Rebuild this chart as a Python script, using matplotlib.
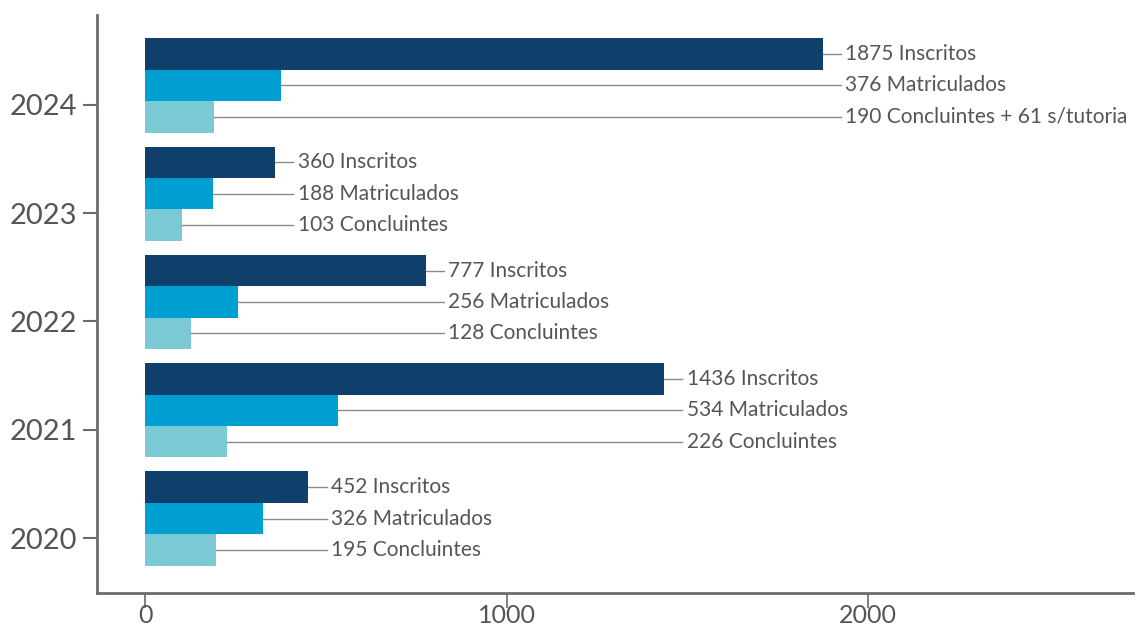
import matplotlib.pyplot as plt
import numpy as np

plt.rcParams['font.family'] = ['Lato', 'DejaVu Sans']

years = ['2020', '2021', '2022', '2023', '2024']
inscritos = [452, 1436, 777, 360, 1875]
matriculados = [326, 534, 256, 188, 376]
concluintes = [195, 226, 128, 103, 190]
lbl_inscritos = ['452 Inscritos', '1436 Inscritos', '777 Inscritos', '360 Inscritos', '1875 Inscritos']
lbl_matriculados = ['326 Matriculados', '534 Matriculados', '256 Matriculados', '188 Matriculados', '376 Matriculados']
lbl_concluintes = ['195 Concluintes', '226 Concluintes', '128 Concluintes', '103 Concluintes',
                   '190 Concluintes + 61 s/tutoria']

colors = ['#0f3f6b', '#009fd1', '#7bc9d4']
txt = '#555555'
axc = '#6b6b6b'

fig = plt.figure(figsize=(11.37, 6.29), dpi=100)
ax = fig.add_axes([0.0853, 0.0572, 0.9112, 0.9188])

y = np.arange(len(years))
h = 0.29
centre = y + 0.18
series = [(inscritos, lbl_inscritos, centre + h),
          (matriculados, lbl_matriculados, centre),
          (concluintes, lbl_concluintes, centre - h)]

for (vals, lbls, pos), c in zip(series, colors):
    ax.barh(pos, vals, height=h, color=c, linewidth=0)

for i in range(len(years)):
    tx = max(inscritos[i], matriculados[i], concluintes[i]) + 62
    for vals, lbls, pos in series:
        ax.plot([vals[i], tx - 12], [pos[i], pos[i]], color='#8a8a8a', lw=1, zorder=1)
        ax.text(tx, pos[i], lbls[i], va='center', ha='left', fontsize=15, color=txt)

ax.set_xlim(-133, 2733)
ax.set_ylim(-0.508, 4.83)
ax.set_yticks(y)
ax.set_yticklabels(years)
ax.set_xticks([0, 1000, 2000])

for s in ['top', 'right']:
    ax.spines[s].set_visible(False)
for s in ['left', 'bottom']:
    ax.spines[s].set_color(axc)
    ax.spines[s].set_linewidth(2)
ax.tick_params(axis='y', length=10, width=1.5, color=axc, labelcolor=txt, labelsize=21, pad=4)
ax.tick_params(axis='x', length=11, width=1.2, color=axc, labelcolor=txt, labelsize=18, pad=-3)

fig.savefig('out.png', dpi=100, facecolor='white')
